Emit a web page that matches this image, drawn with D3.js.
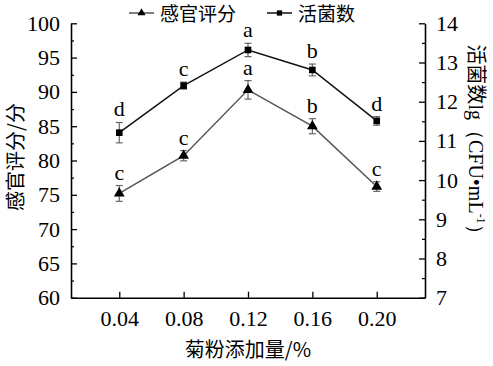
<!DOCTYPE html>
<html><head><meta charset="utf-8">
<script src="https://cdn.jsdelivr.net/npm/d3@7"></script>
<style>body{margin:0;background:#fff;} svg{display:block;}</style>
</head><body>
<svg id="c" width="493" height="366"></svg>
<script>
const doses = [0.04, 0.08, 0.12, 0.16, 0.20];
const doseLabels = ["0.04", "0.08", "0.12", "0.16", "0.20"];
const sensory = [75.2, 80.7, 90.3, 85.0, 76.2];
const sensoryErr = [1.15, 0.75, 1.35, 1.1, 0.7];
const sensoryLetters = ["c", "c", "a", "b", "c"];
const viable = [11.21, 12.41, 13.32, 12.81, 11.51];
const viableErr = [0.26, 0.09, 0.17, 0.15, 0.11];
const viableLetters = ["d", "c", "a", "b", "d"];
const leftTicks = [60, 65, 70, 75, 80, 85, 90, 95, 100];
const rightTicks = [7, 8, 9, 10, 11, 12, 13, 14];

const svg = d3.select("#c");
const L = 71, R = 425, T = 23.3, B = 297.7;
const serif = "Liberation Serif";
const cjk = "Noto Sans CJK SC";

const x = d3.scaleLinear().domain([0.01, 0.23]).range([L, R]);
const yL = d3.scaleLinear().domain([60, 100]).range([B, T]);
const yR = d3.scaleLinear().domain([7, 14]).range([B, T]);

function styleAxis(g) {
  g.attr("font-family", serif).attr("font-size", 22);
  g.select(".domain").attr("stroke", "#000").attr("stroke-width", 1.6);
  g.selectAll(".tick line").attr("stroke", "#000").attr("stroke-width", 1.3);
  g.selectAll(".tick text").attr("font-family", serif).attr("font-size", 22).attr("fill", "#000");
}

// minor ticks
const leftMinor = d3.range(62.5, 100, 5);
const rightMinor = d3.range(7.5, 14, 1);
svg.append("g").attr("transform", `translate(${L},0)`)
  .call(d3.axisRight(yL).tickValues(leftMinor).tickSize(3).tickFormat(""))
  .call(g => { g.select(".domain").remove(); g.selectAll("line").attr("stroke", "#000").attr("stroke-width", 1.2); });
svg.append("g").attr("transform", `translate(${R},0)`)
  .call(d3.axisLeft(yR).tickValues(rightMinor).tickSize(3).tickFormat(""))
  .call(g => { g.select(".domain").remove(); g.selectAll("line").attr("stroke", "#000").attr("stroke-width", 1.2); });

// left axis
const gl = svg.append("g").attr("transform", `translate(${L},0)`)
  .call(d3.axisLeft(yL).tickValues(leftTicks).tickFormat(d3.format("d")).tickSizeOuter(0).tickSizeInner(-6).tickPadding(11));
styleAxis(gl);
// right axis
const gr = svg.append("g").attr("transform", `translate(${R},0)`)
  .call(d3.axisRight(yR).tickValues(rightTicks).tickFormat(d3.format("d")).tickSizeOuter(0).tickSizeInner(-6).tickPadding(11));
styleAxis(gr);
// bottom axis
const gb = svg.append("g").attr("transform", `translate(0,${B})`)
  .call(d3.axisBottom(x).tickValues(doses).tickFormat((d, i) => doseLabels[i]).tickSizeOuter(0).tickSizeInner(-6).tickPadding(13));
styleAxis(gb);

// series
function series(vals, errs, letters, yScale, color, shape) {
  const g = svg.append("g");
  const pts = doses.map((d, i) => ({ x: x(d), y: yScale(vals[i]), lo: yScale(vals[i] - errs[i]), hi: yScale(vals[i] + errs[i]), l: letters[i] }));
  g.append("path").attr("d", d3.line().x(p => p.x).y(p => p.y)(pts))
    .attr("fill", "none").attr("stroke", color).attr("stroke-width", 1.5);
  pts.forEach(p => {
    g.append("line").attr("x1", p.x).attr("x2", p.x).attr("y1", p.lo).attr("y2", p.hi).attr("stroke", "#666").attr("stroke-width", 1.2);
    [p.lo, p.hi].forEach(yy => g.append("line").attr("x1", p.x - 3.5).attr("x2", p.x + 3.5).attr("y1", yy).attr("y2", yy).attr("stroke", "#666").attr("stroke-width", 1.2));
    g.append("path").attr("transform", `translate(${p.x},${p.y})`)
      .attr("d", d3.symbol().type(shape).size(shape === d3.symbolSquare ? 44 : 50)()).attr("fill", "#000");
    g.append("text").attr("x", p.x).attr("y", p.hi - 6).attr("text-anchor", "middle")
      .attr("font-family", serif).attr("font-size", 22).text(p.l);
  });
}
series(sensory, sensoryErr, sensoryLetters, yL, "#555", d3.symbolTriangle);
series(viable, viableErr, viableLetters, yR, "#111", d3.symbolSquare);

// legend
function legendItem(x0, shape, label, color) {
  svg.append("line").attr("x1", x0).attr("x2", x0 + 25).attr("y1", 13).attr("y2", 13).attr("stroke", color).attr("stroke-width", 1.5);
  svg.append("path").attr("transform", `translate(${x0 + 12.5},13)`).attr("d", d3.symbol().type(shape).size(28)()).attr("fill", "#000");
  svg.append("text").attr("x", x0 + 31).attr("y", 21).attr("font-family", cjk).attr("font-size", 19).attr("fill", "#000").text(label);
}
legendItem(129, d3.symbolTriangle, "感官评分", "#555");
legendItem(267, d3.symbolSquare, "活菌数", "#111");

// axis titles
svg.append("text").attr("transform", `translate(23,157) rotate(-90)`).attr("text-anchor", "middle")
  .attr("font-family", cjk).attr("font-size", 20).text("感官评分/分");
const rt = svg.append("text").attr("transform", `translate(469,144) rotate(90)`).attr("text-anchor", "middle")
  .attr("font-family", serif).attr("font-size", 20);
rt.append("tspan").attr("font-family", cjk).text("活菌数");
rt.append("tspan").text("lg（CFU•mL");
rt.append("tspan").attr("font-size", 12).attr("dy", -8).text("-1");
rt.append("tspan").attr("dy", 8).text("）");
svg.append("text").attr("x", 248).attr("y", 357).attr("text-anchor", "middle")
  .attr("font-family", cjk).attr("font-size", 20).text("菊粉添加量/%");
</script>
</body></html>
